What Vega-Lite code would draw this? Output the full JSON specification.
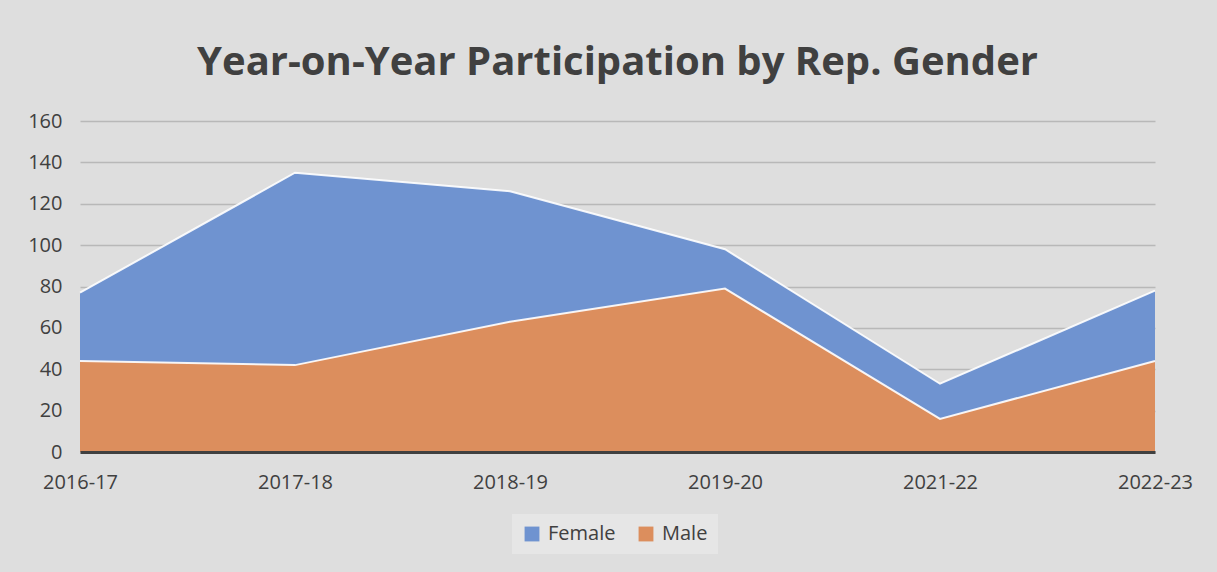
{
  "$schema": "https://vega.github.io/schema/vega-lite/v6.json",
  "width": 1075,
  "height": 331,
  "autosize": {"type": "none"},
  "padding": {"left": 80, "top": 121, "right": 62, "bottom": 120},
  "background": "#dedede",
  "title": {
    "text": "Year-on-Year Participation by Rep. Gender",
    "font": "Open Sans",
    "fontSize": 40,
    "fontWeight": "bold",
    "color": "#404040",
    "anchor": "middle",
    "offset": 28
  },
  "data": {
    "values": [
      {"year": "2016-17", "gender": "Female", "count": 33},
      {"year": "2017-18", "gender": "Female", "count": 93},
      {"year": "2018-19", "gender": "Female", "count": 63},
      {"year": "2019-20", "gender": "Female", "count": 19},
      {"year": "2021-22", "gender": "Female", "count": 17},
      {"year": "2022-23", "gender": "Female", "count": 34},
      {"year": "2016-17", "gender": "Male", "count": 44},
      {"year": "2017-18", "gender": "Male", "count": 42},
      {"year": "2018-19", "gender": "Male", "count": 63},
      {"year": "2019-20", "gender": "Male", "count": 79},
      {"year": "2021-22", "gender": "Male", "count": 16},
      {"year": "2022-23", "gender": "Male", "count": 44}
    ]
  },
  "encoding": {
    "x": {
      "field": "year",
      "type": "ordinal",
      "scale": {"type": "point", "padding": 0},
      "axis": {
        "title": null,
        "labelAngle": 0,
        "labelFont": "Open Sans",
        "labelFontSize": 20,
        "labelColor": "#404040",
        "labelPadding": 20,
        "ticks": false,
        "domainColor": "#404040",
        "domainWidth": 3,
        "grid": false,
        "zindex": 1
      }
    },
    "y": {
      "field": "count",
      "type": "quantitative",
      "stack": "zero",
      "scale": {"domain": [0, 160]},
      "axis": {
        "title": null,
        "values": [0, 20, 40, 60, 80, 100, 120, 140, 160],
        "labelFont": "Open Sans",
        "labelFontSize": 20,
        "labelColor": "#404040",
        "labelPadding": 18,
        "ticks": false,
        "domain": false,
        "gridColor": "#b8b8b8",
        "gridWidth": 1.5
      }
    },
    "order": {"field": "gender", "sort": "descending"}
  },
  "layer": [
    {
      "mark": {"type": "area", "opacity": 1},
      "encoding": {
        "color": {
          "field": "gender",
          "type": "nominal",
          "scale": {"domain": ["Female", "Male"], "range": ["#6f93d0", "#dc8e5d"]},
          "legend": {
            "title": null,
            "orient": "none",
            "direction": "horizontal",
            "legendX": 432,
            "legendY": 393,
            "labelFont": "Open Sans",
            "labelFontSize": 20,
            "labelColor": "#404040",
            "symbolType": "square",
            "symbolSize": 220,
            "symbolStrokeWidth": 0,
            "symbolOpacity": 1,
            "fillColor": "#e6e6e6",
            "padding": 10,
            "columnPadding": 20,
            "labelOffset": 6
          }
        }
      }
    },
    {
      "mark": {"type": "line", "color": "white", "strokeWidth": 2, "opacity": 0.9},
      "encoding": {
        "detail": {"field": "gender", "type": "nominal"}
      }
    }
  ],
  "config": {
    "view": {"stroke": null},
    "axis": {"gridOpacity": 1}
  }
}
